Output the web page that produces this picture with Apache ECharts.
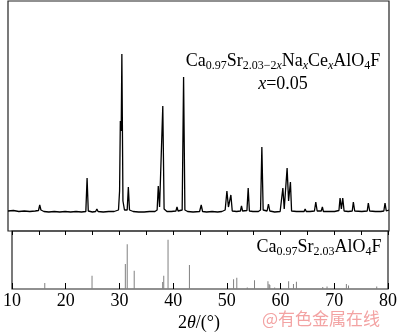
<!DOCTYPE html>
<html>
<head>
<meta charset="utf-8">
<script src="https://cdn.jsdelivr.net/npm/echarts@6/dist/echarts.min.js"></script>
</head>
<body style="margin:0">
<div style="position:relative;width:400px;height:335px">
<div id="xrd_chart_id" style="width:400px;height:335px"></div>
<div style="position:absolute;left:262px;top:308px;font:17px/20px 'Noto Sans CJK SC',sans-serif;color:#f3a3a3;white-space:nowrap">@有色金属在线</div>
</div>
<script>
// measured XRD pattern [2theta, intensity]
var xrd_data = [
	[10, 20], [11, 20.5], [12, 19.5], [13, 20], [14, 19.5], [15, 20], [15.6, 20.5], [15.83, 26], [16.05, 21],
	[16.6, 19.5], [17.5, 19], [18.5, 19.5], [19.5, 19], [20.5, 19.5], [21.5, 19], [22.5, 19.5], [23.5, 19],
	[24.3, 19.5], [24.53, 53], [24.75, 20], [25.5, 19], [26.1, 19.5], [26.33, 22], [26.55, 19.5], [27.5, 19],
	[28.5, 19.5], [29.5, 19.5], [30.3, 21], [30.5, 40], [30.64, 110], [30.8, 100], [30.92, 177], [31.12, 30],
	[31.4, 21], [31.9, 21], [32.11, 44], [32.32, 21], [33, 19.5], [34, 19], [35, 19], [36, 19.5], [37, 19.5],
	[37.4, 21], [37.61, 45], [37.85, 24], [38.1, 26], [38.44, 125], [38.68, 22], [39.2, 19.5], [40, 19.5],
	[40.85, 20], [41.05, 24], [41.25, 20], [42.0, 21], [42.26, 154], [42.5, 21], [43, 19.5], [44, 19],
	[45.2, 19.5], [45.5, 26], [45.75, 19.5], [46.5, 19], [47.5, 19.5], [48.5, 19], [49.3, 19.5], [49.9, 21],
	[50.22, 40], [50.5, 24], [50.95, 36], [51.2, 20], [52, 19.5], [52.7, 20], [52.9, 25], [53.1, 20],
	[53.9, 20.5], [54.13, 43], [54.35, 20], [55, 19.5], [56, 19.5], [56.4, 21], [56.64, 84], [56.88, 21],
	[57.6, 20], [57.85, 27], [58.1, 20], [59, 19], [60, 19.5], [60.3, 21], [60.5, 43], [60.75, 22],
	[61.05, 24], [61.28, 63], [61.55, 30], [61.89, 49], [62.1, 20], [63, 19.5], [64, 19.5], [64.4, 19.5],
	[64.59, 22], [64.8, 19.5], [65.5, 19.5], [66.3, 20], [66.55, 29], [66.8, 20], [67.55, 20], [67.76, 24],
	[67.95, 19.5], [69, 19.5], [70, 19.5], [70.8, 20.5], [71.01, 33], [71.25, 22], [71.5, 33], [71.75, 20],
	[72.5, 19.5], [73.25, 20], [73.45, 29], [73.7, 20], [75, 19.5], [76.0, 20], [76.2, 28], [76.45, 20],
	[77.5, 19.5], [78.5, 19.5], [79.05, 20], [79.27, 28], [79.5, 20], [79.8, 22], [80, 21]
];
// reference card Ca0.97Sr2.03AlO4F
var ref_pos = [16.1, 24.9, 31.1, 31.45, 32.75, 38.05, 38.25, 39.05, 43.03, 51.25, 51.85, 53.8, 55.15,
	57.65, 57.85, 58.0, 58.9, 61.5, 62.4, 62.95, 67.85, 68.65, 72.25, 72.65, 77.9];
var ref_int = [12, 27, 51, 91, 37, 14, 27, 100, 49, 20, 23, 3, 18,
	16, 10, 8, 3, 16, 10, 15, 4, 5, 10, 7, 5];
var x_ticks = ['10', '20', '30', '40', '50', '60', '70', '80'];

var ref_data = [];
for (var k = 0; k < ref_pos.length; k++) {
	ref_data.push([ref_pos[k], ref_int[k]]);
}

// subscript / italic styles
var rich_style = {
	s: { fontSize: 12, fontFamily: 'Liberation Serif', verticalAlign: 'bottom', lineHeight: 5 },
	si: { fontSize: 12, fontFamily: 'Liberation Serif', fontStyle: 'italic', verticalAlign: 'bottom', lineHeight: 5 },
	i: { fontSize: 18, fontFamily: 'Liberation Serif', fontStyle: 'italic', lineHeight: 22 },
	m: { fontSize: 18, fontFamily: 'Liberation Serif', lineHeight: 22 }
};

var myChart = echarts.init(document.getElementById('xrd_chart_id'));

var option = {
	animationDuration: 200,
	grid: [
		{ left: 8, right: 11, top: 1, height: 230, show: true, borderColor: '#222', borderWidth: 1.2 },
		{ left: 8, right: 11, top: 231, height: 58, show: true, borderColor: '#222', borderWidth: 1.2 }
	],
	xAxis: [
		{ gridIndex: 0, type: 'value', min: 10, max: 80, show: false },
		{
			gridIndex: 1, type: 'value', min: 10, max: 80, interval: 10, position: 'bottom',
			axisLine: { show: false },
			axisTick: { show: true, inside: true, length: 6, lineStyle: { color: '#000' } },
			splitLine: { show: false },
			axisLabel: {
				margin: 3, color: '#000', fontSize: 18, fontFamily: 'Liberation Serif',
				formatter: function(v) { return x_ticks[Math.round((v - 10) / 10)]; }
			}
		},
		{
			gridIndex: 1, type: 'value', min: 10, max: 80, interval: 5, position: 'top',
			axisLine: { show: false },
			axisTick: { show: true, inside: true, length: 4, lineStyle: { color: '#000' } },
			splitLine: { show: false },
			axisLabel: { show: false }
		}
	],
	yAxis: [
		{ gridIndex: 0, type: 'value', min: 0, max: 230, show: false },
		{ gridIndex: 1, type: 'value', min: 0, max: 118, show: false }
	],
	series: [
		{
			type: 'line', xAxisIndex: 0, yAxisIndex: 0, data: xrd_data,
			showSymbol: false, lineStyle: { color: '#000', width: 1.3 }
		},
		{
			type: 'bar', xAxisIndex: 1, yAxisIndex: 1, data: ref_data,
			barWidth: 1, itemStyle: { color: '#808080' }
		}
	],
	graphic: [
		{
			type: 'text', x: 283, y: 61,
			style: {
				text: '{m|Ca}{s|0.97}{m|Sr}{s|2.03−2}{si|x}{m|Na}{si|x}{m|Ce}{si|x}{m|AlO}{s|4}{m|F}',
				rich: rich_style, align: 'center', verticalAlign: 'middle', fill: '#000'
			}
		},
		{
			type: 'text', x: 283, y: 84,
			style: {
				text: '{i|x}{m|=0.05}', rich: rich_style,
				align: 'center', verticalAlign: 'middle', fill: '#000'
			}
		},
		{
			type: 'text', x: 319, y: 247,
			style: {
				text: '{m|Ca}{s|0.97}{m|Sr}{s|2.03}{m|AlO}{s|4}{m|F}', rich: rich_style,
				align: 'center', verticalAlign: 'middle', fill: '#000'
			}
		},
		{
			type: 'text', x: 199, y: 323,
			style: {
				text: '{m|2}{i|θ}{m|/(°)}', rich: rich_style,
				align: 'center', verticalAlign: 'middle', fill: '#000'
			}
		}
	]
};

myChart.setOption(option);
// repaint once fonts are ready
setTimeout(function() { myChart.resize(); }, 400);
</script>
</body>
</html>
